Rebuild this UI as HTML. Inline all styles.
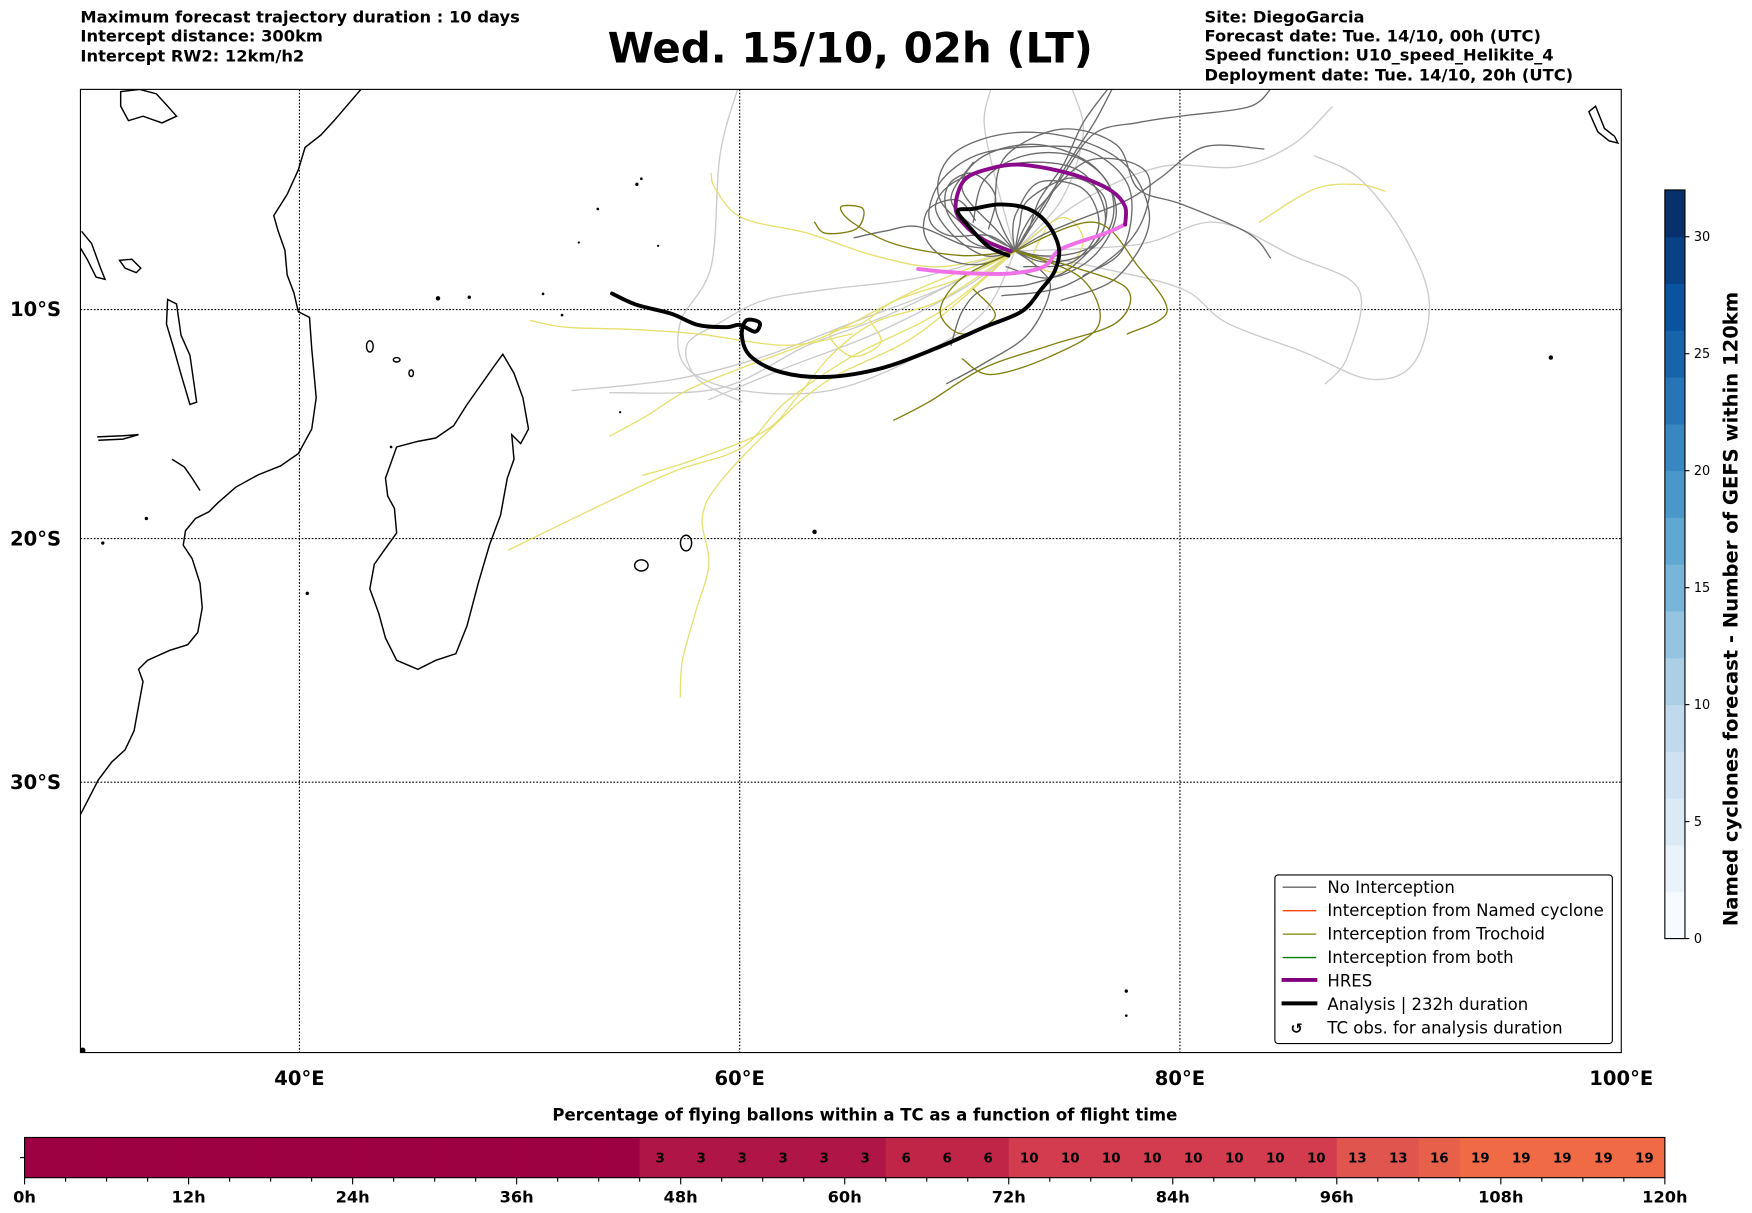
<!DOCTYPE html>
<html><head><meta charset="utf-8"><style>
html,body{margin:0;padding:0;background:#fff;}
svg{display:block;font-family:"DejaVu Sans","Liberation Sans",sans-serif;}
</style></head><body>
<svg id="fig" width="1752" height="1213" viewBox="0 0 1568 1085.6" preserveAspectRatio="none" xmlns="http://www.w3.org/2000/svg">
<g font-size="14.6" font-weight="bold">
<text x="72" y="20">Maximum forecast trajectory duration : 10 days</text>
<text x="72" y="37">Intercept distance: 300km</text>
<text x="72" y="55">Intercept RW2: 12km/h2</text>
</g>
<text x="761" y="56" font-size="37.5" font-weight="bold" text-anchor="middle">Wed. 15/10, 02h (LT)</text>
<g font-size="14.6" font-weight="bold">
<text x="1078" y="20">Site: DiegoGarcia</text>
<text x="1078" y="37">Forecast date: Tue. 14/10, 00h (UTC)</text>
<text x="1078" y="54">Speed function: U10_speed_Helikite_4</text>
<text x="1078" y="72">Deployment date: Tue. 14/10, 20h (UTC)</text>
</g>
<defs><clipPath id="mapclip"><rect x="72" y="80" width="1379" height="862"/></clipPath></defs>
<g id="map" clip-path="url(#mapclip)">
<g fill="none" stroke="#000" stroke-width="1.3">
<path d="M323,80 L299,108 L287,121 L273,132 L267,152 L257,174 L245,193 L249,207 L255,224 L257,246 L263,262 L267,279 L277,284 L279,312 L283,356 L279,384 L267,406 L251,417 L231,425 L211,436 L195,450 L187,458 L175,464 L166,475 L164,488 L172,500 L179,522 L181,544 L177,566 L168,577 L152,582 L132,591 L124,599 L128,610 L124,632 L120,654 L112,671 L100,682 L88,698 L72,729"/>
<path d="M450,317 L460,334 L468,356 L473,384 L466,397 L458,389 L460,411 L454,428 L448,461 L438,488 L428,522 L418,560 L408,585 L390,591 L374,599 L355,591 L345,571 L339,549 L331,527 L335,505 L347,488 L355,477 L353,455 L347,444 L345,428 L355,400 L374,395 L390,392 L406,381 L418,362 L430,345 L442,328 Z"/>
<path d="M150,268 L158,272 L162,300 L170,318 L176,360 L170,362 L162,335 L155,310 L149,290 Z"/>
<path d="M108,82 L125,80 L140,84 L150,95 L158,104 L145,110 L128,104 L115,108 L108,95 Z"/>
<path d="M73,207 L82,218 L90,240 L94,250 L86,248 L78,232 L72,222"/>
<path d="M87,391 L110,390 L124,389 L110,393 L88,394"/>
<path d="M154,411 L165,418 L172,428 L179,439"/>
<path d="M107,233 L118,232 L126,240 L122,244 L112,240 Z"/>
<path d="M1422,100 L1428,95 L1436,115 L1445,122 L1448,128 L1440,126 L1430,118 Z"/>
<ellipse cx="614" cy="486" rx="5" ry="7"/>
<ellipse cx="574" cy="506" rx="6" ry="5"/>
<ellipse cx="331" cy="310" rx="3" ry="5"/>
<ellipse cx="355" cy="322" rx="3" ry="2"/>
<ellipse cx="368" cy="334" rx="2" ry="3"/>
</g>
<g fill="#000">
<circle cx="570" cy="165" r="1.5"/><circle cx="574" cy="160" r="1.2"/><circle cx="535" cy="187" r="1.2"/><circle cx="518" cy="217" r="1"/><circle cx="589" cy="220" r="1"/><circle cx="392" cy="267" r="2"/><circle cx="420" cy="266" r="1.5"/><circle cx="486" cy="263" r="1.2"/><circle cx="729" cy="476" r="2"/><circle cx="1388" cy="320" r="2"/><circle cx="1008" cy="887" r="1.5"/><circle cx="1008" cy="909" r="1.2"/><circle cx="131" cy="464" r="1.5"/><circle cx="92" cy="486" r="1.5"/><circle cx="275" cy="531" r="1.5"/><circle cx="350" cy="400" r="1.2"/><circle cx="503" cy="282" r="1.2"/><circle cx="74" cy="940" r="2.5"/><circle cx="555" cy="369" r="1"/>
</g>
<g stroke="#000" stroke-width="1" stroke-dasharray="1.5,1.5">
<line x1="268" y1="80" x2="268" y2="942"/><line x1="662" y1="80" x2="662" y2="942"/><line x1="1056" y1="80" x2="1056" y2="942"/>
<line x1="72" y1="277" x2="1451" y2="277"/><line x1="72" y1="482" x2="1451" y2="482"/><line x1="72" y1="700" x2="1451" y2="700"/>
</g>
<g id="tracks"></g>
</g>
<rect x="72" y="80" width="1379" height="862" fill="none" stroke="#000" stroke-width="1"/>
<g font-size="17.5" font-weight="bold">
<text x="9" y="283">10°S</text><text x="9" y="488">20°S</text><text x="9" y="706">30°S</text>
</g>
<g font-size="17.5" font-weight="bold" text-anchor="middle">
<text x="268" y="971">40°E</text><text x="662" y="971">60°E</text><text x="1056" y="971">80°E</text><text x="1451" y="971">100°E</text>
</g>
<g>
<rect x="1141" y="783" width="302" height="151" rx="3" fill="#fff" stroke="#000" stroke-width="1"/>
<g font-size="14.8" font-family="DejaVu Sans, sans-serif">
<line x1="1148" y1="794" x2="1178" y2="794" stroke="#666" stroke-width="1.2"/><text x="1188" y="799">No Interception</text>
<line x1="1148" y1="815" x2="1178" y2="815" stroke="#ff4500" stroke-width="1.2"/><text x="1188" y="820">Interception from Named cyclone</text>
<line x1="1148" y1="836" x2="1178" y2="836" stroke="#808000" stroke-width="1.2"/><text x="1188" y="841">Interception from Trochoid</text>
<line x1="1148" y1="857" x2="1178" y2="857" stroke="#008000" stroke-width="1.2"/><text x="1188" y="862">Interception from both</text>
<line x1="1147" y1="877" x2="1179" y2="877" stroke="#800080" stroke-width="3.5"/><text x="1188" y="883">HRES</text>
<line x1="1147" y1="898" x2="1179" y2="898" stroke="#000" stroke-width="3.5"/><text x="1188" y="904">Analysis | 232h duration</text>
<text x="1155" y="925" font-size="13" font-weight="bold">↺</text><text x="1188" y="925">TC obs. for analysis duration</text>
</g>
</g>
<g id="cbar"></g>
<text transform="translate(1555,545) rotate(-90)" font-size="17.5" font-weight="bold" text-anchor="middle">Named cyclones forecast - Number of GEFS within 120km</text>
<text x="774" y="1003" font-size="14.8" font-weight="bold" text-anchor="middle">Percentage of flying ballons within a TC as a function of flight time</text>
<g id="tbar"></g>
</svg>
<script>
// ---- trajectory data (lon E, lat S) ----
const analysisTrack = [[54.1,9.2],[55.2,9.7],[56.8,10.1],[58.0,10.6],[59.3,10.7],[59.9,10.6],[60.6,10.9],[60.8,10.5],[60.2,10.4],[60.0,11.1],[60.4,12.0],[61.8,12.7],[63.9,12.9],[66.4,12.5],[68.9,11.6],[71.0,10.7],[72.7,10.0],[73.6,9.0],[74.2,8.2],[74.4,7.2],[73.9,6.1],[73.0,5.4],[71.7,5.2],[70.5,5.4],[69.8,5.5],[70.4,6.3],[71.2,7.1],[72.1,7.5]];
const hresTrack = [[72.2,7.3],[71.0,6.8],[70.1,6.1],[69.7,5.3],[70.1,4.1],[71.2,3.6],[72.5,3.4],[74.0,3.6],[75.5,4.0],[76.8,4.6],[77.4,5.3],[77.4,6.1]];
const hresLateTrack = [[77.4,6.1],[76.5,6.5],[74.5,7.2],[73.7,8.0],[72.2,8.3],[70.5,8.3],[68.9,8.2],[68.0,8.1]];
const noInterceptDark = [
 [[72.4,7.3],[71.6,6.4],[70,4.5],[71,3],[73.5,2.5],[76,3.5],[77,5.5],[76,7.5],[74,8.5],[72,8]],
 [[72.4,7.3],[71.2,6.9],[69,5],[69.5,3],[72,2],[75,2.2],[77.5,3.5],[78.5,6],[77,8.5],[74.5,9.5]],
 [[72.4,7.3],[71.8,6.2],[71.5,5],[72,3],[74.5,1.8],[77,2.5],[78,4.5],[80,5.2],[83,6.5],[84,7.6]],
 [[72.4,7.3],[72.6,6.2],[73,5],[75,4],[76.5,5],[76,7],[73.5,7.5],[71,6.5],[69.5,5],[70.5,3.3]],
 [[72.4,7.3],[73,6.4],[73.5,5],[74.6,3.4],[75.5,1.5],[76.6,0]],
 [[72.4,7.3],[71.3,7.2],[70,7],[68,6.2],[66.5,6.4],[65.1,6.7]],
 [[72.4,7.3],[73.4,8],[74,9],[73,11],[71,12.3],[69.3,13.2]],
 [[72.4,7.3],[73.6,6.6],[75,6],[77.5,5],[79,4],[81,2.6],[83.7,2.7]],
 [[72.4,7.3],[73.3,5.8],[74.5,4],[76,2],[78,1.5],[80,1.2],[83,0.8],[84,0]],
 [[72.4,7.3],[71,7.5],[69.5,6.5],[68.8,5.2],[70,4],[73,3.3],[75.5,3.8],[76.5,6],[75,8],[73,8.8],[71,9],[70,10],[69.5,11.5]],
 [[72.4,7.3],[72.3,6.4],[72.5,5.5],[73.5,4.2],[75.5,4.5],[76.2,6.2],[75,7.8],[72.8,8]],
 [[72.4,7.3],[71.4,7.2],[70.3,6.8],[69.3,5.5],[69.4,4.3],[70.5,3.8],[71.5,4.8],[71.2,6.3]],
 [[72.4,7.3],[73.8,5.2],[74.7,3.5],[76,1.5],[76.8,0]],
 [[72.4,7.3],[72.8,6.3],[73.6,5.2],[75.8,3.2],[78.4,3.8],[77.8,6.6],[74.8,8.8],[71.8,9.3]],
 [[72.4,7.3],[71.2,6.6],[69.4,6.6],[68.5,5.8],[69,4.2],[70.6,3],[73,2.6],[75.8,2.8],[77.6,4.5],[77.3,7.2],[75.5,8.4]],
 [[72.4,7.3],[70.8,7.9],[69.2,7.6],[68.3,6.6],[68.5,5.4],[69.8,5],[70.6,5.9]],
 [[72.4,7.3],[73.8,7.8],[75.6,7.4],[76.8,6],[76.6,4.2],[75,3],[72.8,3],[71,4.1],[70.5,6]]
];
const noInterceptLight = [
 [[72.4,7.3],[69,9],[65,10.5],[61,12],[57,13],[52.3,13.5]],
 [[72.4,7.3],[70,9],[66,11],[62,12.5],[58.5,13.9]],
 [[59.8,0],[59,3],[58.6,8],[57.2,10.5],[57.5,12.5],[60,13.5],[64,13.5],[68,12],[71,10],[72.4,7.3]],
 [[72.4,7.3],[76,8],[80,9],[82,10.5],[85.5,11.8],[88.5,13],[90.5,12.3],[91.2,9.5],[90,6.5],[88,4],[86,3]],
 [[72.4,7.3],[75.5,5],[79,3.5],[82.5,3.5],[85,2.5],[86.8,0.8]],
 [[72.4,7.3],[71.5,4],[71,1.5],[71.3,0]],
 [[72.4,7.3],[68,8.5],[64,9],[61,9.5],[59,10.5],[57.5,11.5],[58,13],[60,14]],
 [[72.4,7.3],[78,7],[81.5,6],[85,7.5],[88,9],[87.5,12],[86.5,13.2]],
 [[72.4,7.3],[74.5,5],[75.5,2],[75,0]],
 [[72.4,7.3],[67,10],[63,11.5],[59,13.4],[54,13.6]]
];
const trochoidYellow = [
 [[72.4,7.3],[69,8],[66,7.5],[63,6.5],[60,5.8],[58.8,4.5],[58.6,3.8]],
 [[72.4,7.3],[68,9],[64,11],[60,12.5],[57.5,13.5],[55.7,14.6],[54,15.5]],
 [[72.4,7.3],[69,10],[65,12],[62,14],[60,16],[57,17],[54,18.3],[49.4,20.4]],
 [[72.4,7.3],[68,11],[64,13],[61.5,15],[59,17.5],[58.2,19],[58.5,21],[57.9,23],[57.3,25],[57.2,26.5]],
 [[65,11],[62,11.5],[58,11],[55,10.8],[52,10.7],[50.4,10.4]],
 [[83.5,6],[86,4.5],[88,4.3],[89.2,4.6]],
 [[72.4,7.3],[69,9.5],[66,10.5],[64,12],[62.5,13.8],[61,15.3],[57.6,16.6],[55.5,17.2]],
 [[72.4,7.3],[74.5,5.8],[75.5,6.8],[74.6,8.2],[73.2,7.8],[73.8,6.3]],
 [[72.4,7.3],[70,8.5],[67,9.5],[65.5,10.5],[64,11],[65,12],[66.3,11.4],[65.8,10.4]]
];
const trochoidOlive = [
 [[72.4,7.3],[70,7.5],[67,7],[65,6],[64.5,5.3],[65.5,5.4],[65.2,6.3],[63.8,6.5],[63.3,6]],
 [[72.4,7.3],[75,8],[77.5,9],[77,10.5],[74,11.5],[71,12.5],[68.5,14],[66.9,14.8]],
 [[72.4,7.3],[76,6],[78,8],[79.3,10],[77.5,11]],
 [[72.4,7.3],[70,8.5],[69,10],[70,11],[71.5,10.2],[70.5,9]],
 [[72.4,7.3],[75.4,8.5],[76.2,10.6],[74,12],[71.3,12.8],[70,12.1]]
];
// ---- time bar data ----
const hourCells = [0,3,6,9,12,15,18,21,24,27,30,33,36,39,42,45,48,51,54,57,60,63,66,69,72,75,78,81,84,87,90,93,96,99,102,105,108,111,114,117];
const cellPercent = [0,0,0,0,0,0,0,0,0,0,0,0,0,0,0,3,3,3,3,3,3,6,6,6,10,10,10,10,10,10,10,10,13,13,16,19,19,19,19,19];
const hourTicks = ["0h","12h","24h","36h","48h","60h","72h","84h","96h","108h","120h"];
// ---- colorbar data ----
const cbarTicks = [0,5,10,15,20,25,30];
const cbarLevels = [0,2,4,6,8,10,12,14,16,18,20,22,24,26,28,30];

const NS='http://www.w3.org/2000/svg';
function lonX(lon){return 72.7+(lon-30)*19.71;}
function latY(lat){const r=lat*Math.PI/180;return 80+1133*Math.log(Math.tan(Math.PI/4+r/2));}
function smoothPath(pts){
 const p=pts.map(d=>[lonX(d[0]),latY(d[1])]);
 let s='M'+p[0][0].toFixed(1)+','+p[0][1].toFixed(1);
 for(let i=0;i<p.length-1;i++){
  const p0=p[i-1]||p[i],p1=p[i],p2=p[i+1],p3=p[i+2]||p2;
  const c1=[p1[0]+(p2[0]-p0[0])/6,p1[1]+(p2[1]-p0[1])/6];
  const c2=[p2[0]-(p3[0]-p1[0])/6,p2[1]-(p3[1]-p1[1])/6];
  s+=' C'+c1.map(v=>v.toFixed(1)).join(',')+' '+c2.map(v=>v.toFixed(1)).join(',')+' '+p2[0].toFixed(1)+','+p2[1].toFixed(1);
 }
 return s;
}
const tracks=document.getElementById('tracks');
function addTrack(pts,color,w,name){
 const el=document.createElementNS(NS,'path');
 el.setAttribute('d',smoothPath(pts));
 el.setAttribute('fill','none');el.setAttribute('stroke',color);el.setAttribute('stroke-width',w);
 el.setAttribute('stroke-linejoin','round');el.setAttribute('stroke-linecap','round');
 
 
 tracks.appendChild(el);
}
noInterceptLight.forEach(t=>addTrack(t,'#cbcbcb',1.2,'light-gray-trajectory'));
trochoidYellow.forEach(t=>addTrack(t,'#e6e070',1.2,'yellow-trajectory'));
noInterceptDark.forEach(t=>addTrack(t,'#6a6a6a',1.2,'no-interception-trajectory'));
trochoidOlive.forEach(t=>addTrack(t,'#7f7f10',1.2,'trochoid-trajectory'));
addTrack(hresLateTrack,'#f070e8',3.5,'hres-late-track');
addTrack(hresTrack,'#8b0a8b',3.5,'hres-track');
addTrack(analysisTrack,'#000',3.5,'analysis-track');

// colorbar
const cb=document.getElementById('cbar');
const cbX=1490,cbW=18,cbBottom=840,cbPer=(840-170)/32;
function blues(t){const stops=[[247,251,255],[222,235,247],[198,219,239],[158,202,225],[107,174,214],[66,146,198],[33,113,181],[8,81,156],[8,48,107]];
 const f=t*(stops.length-1),i=Math.min(Math.floor(f),stops.length-2),u=f-i;
 return 'rgb('+stops[i].map((v,k)=>Math.round(v+(stops[i+1][k]-v)*u)).join(',')+')';}
cbarLevels.forEach((lv,i)=>{
 const r=document.createElementNS(NS,'rect');
 r.setAttribute('x',cbX);r.setAttribute('width',cbW);
 r.setAttribute('y',cbBottom-(lv+2)*cbPer);r.setAttribute('height',2*cbPer+0.4);
 r.setAttribute('fill',blues(i/(cbarLevels.length-1)));
 
 
 cb.appendChild(r);
});
const cbf=document.createElementNS(NS,'rect');
cbf.setAttribute('x',cbX);cbf.setAttribute('y',170);cbf.setAttribute('width',cbW);cbf.setAttribute('height',670);
cbf.setAttribute('fill','none');cbf.setAttribute('stroke','#000');cbf.setAttribute('stroke-width','1');


cb.appendChild(cbf);
cbarTicks.forEach(v=>{
 const y=cbBottom-v*cbPer;
 const l=document.createElementNS(NS,'line');
 l.setAttribute('x1',cbX+cbW);l.setAttribute('x2',cbX+cbW+4);l.setAttribute('y1',y);l.setAttribute('y2',y);l.setAttribute('stroke','#000');
 
 
 cb.appendChild(l);
 const t=document.createElementNS(NS,'text');
 t.setAttribute('x',cbX+cbW+8);t.setAttribute('y',y+4);t.setAttribute('font-size','11.5');t.textContent=v;
 
 
 cb.appendChild(t);
});

// time bar
const tb=document.getElementById('tbar');
const tbX=22,tbW=1468,tbY=1018,tbH=36;
function hx(h){return tbX+h*tbW/120;}
function pctColor(p){const c=[[158,1,66],[175,21,70],[192,37,72],[211,60,78],[224,86,78],[230,96,74],[239,106,69]];
 const lv=[0,3,6,10,13,16,19];let i=0;while(i<lv.length-1&&p>=lv[i+1])i++;return 'rgb('+c[i].join(',')+')';}
hourCells.forEach((h,i)=>{
 const r=document.createElementNS(NS,'rect');
 r.setAttribute('x',hx(h));r.setAttribute('y',tbY);r.setAttribute('width',hx(h+3)-hx(h)+0.5);r.setAttribute('height',tbH);
 r.setAttribute('fill',pctColor(cellPercent[i]));
 
 
 tb.appendChild(r);
 if(cellPercent[i]>0){
  const t=document.createElementNS(NS,'text');
  t.setAttribute('x',hx(h+1.5));t.setAttribute('y',tbY+tbH/2+4.5);t.setAttribute('font-size','12');t.setAttribute('font-weight','bold');t.setAttribute('text-anchor','middle');
  t.textContent=cellPercent[i];
  
  
  tb.appendChild(t);
 }
});
const tf=document.createElementNS(NS,'rect');
tf.setAttribute('x',tbX);tf.setAttribute('y',tbY);tf.setAttribute('width',tbW);tf.setAttribute('height',tbH);
tf.setAttribute('fill','none');tf.setAttribute('stroke','#000');tf.setAttribute('stroke-width','1');


tb.appendChild(tf);
const yt=document.createElementNS(NS,'line');
yt.setAttribute('x1',18);yt.setAttribute('x2',22);yt.setAttribute('y1',1036);yt.setAttribute('y2',1036);yt.setAttribute('stroke','#000');


tb.appendChild(yt);
for(let h=0;h<=120;h+=3){
 const l=document.createElementNS(NS,'line');
 const major=h%12===0;
 l.setAttribute('x1',hx(h));l.setAttribute('x2',hx(h));l.setAttribute('y1',tbY+tbH);l.setAttribute('y2',tbY+tbH+(major?6:3.5));l.setAttribute('stroke','#000');
 
 
 tb.appendChild(l);
}
hourTicks.forEach((lab,i)=>{
 const t=document.createElementNS(NS,'text');
 t.setAttribute('x',hx(i*12));t.setAttribute('y',1076);t.setAttribute('font-size','14.5');t.setAttribute('font-weight','bold');t.setAttribute('text-anchor','middle');
 t.textContent=lab;
 
 
 tb.appendChild(t);
});
</script>
</body></html>
